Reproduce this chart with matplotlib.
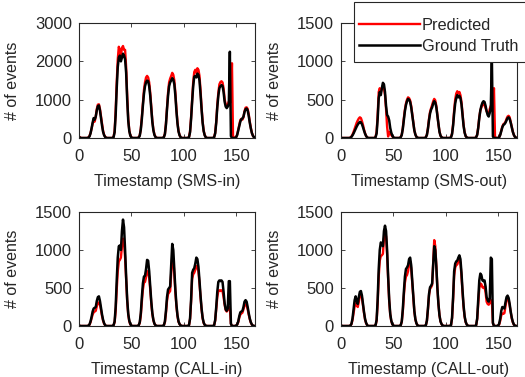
import numpy as np
import matplotlib
matplotlib.use('Agg')
import matplotlib.pyplot as plt
from matplotlib.patches import Rectangle

# hourly timestamps over one week
timestamps = list(range(0, 169))

# SMS-in
sms_in_true = ([30, 10, 0, 0, 0, 0, 0, 0, 0, 10, 40, 120, 250, 400, 520, 480, 560, 720, 830, 850, 720, 520, 320, 160]
               + [70, 25, 5, 0, 0, 0, 0, 0, 0, 20, 150, 600, 1300, 1850, 2100, 2150, 2000, 2100, 2200, 2150, 2050, 1700, 1000, 450]
               + [180, 60, 15, 0, 0, 0, 0, 0, 0, 10, 60, 220, 500, 850, 1150, 1350, 1450, 1500, 1480, 1350, 1100, 750, 420, 200]
               + [80, 25, 5, 0, 0, 0, 0, 0, 0, 20, 100, 350, 750, 1100, 1350, 1450, 1500, 1560, 1520, 1400, 1100, 700, 380, 170]
               + [70, 20, 0, 0, 0, 0, 0, 0, 0, 20, 150, 500, 950, 1350, 1600, 1620, 1580, 1680, 1650, 1500, 1150, 750, 400, 180]
               + [70, 20, 0, 0, 0, 0, 0, 0, 0, 20, 120, 400, 800, 1100, 1300, 1350, 1380, 1360, 1200, 950, 820, 780, 820, 900]
               + [2250, 50, 0, 0, 0, 0, 20, 80, 200, 330, 430, 490, 510, 560, 680, 750, 770, 720, 580, 400, 250, 130, 60, 20]
               + [10])
sms_in_pred = ([40, 15, 0, 0, 0, 0, 0, 0, 0, 15, 50, 130, 240, 370, 450, 430, 560, 760, 870, 880, 760, 560, 350, 180]
               + [80, 30, 5, 0, 0, 0, 0, 0, 0, 30, 180, 700, 1450, 2050, 2380, 2300, 2150, 2350, 2400, 2300, 2300, 1850, 1100, 500]
               + [200, 70, 15, 0, 0, 0, 0, 0, 0, 15, 70, 240, 550, 900, 1250, 1450, 1580, 1620, 1580, 1450, 1180, 800, 450, 220]
               + [90, 30, 5, 0, 0, 0, 0, 0, 0, 25, 110, 380, 800, 1180, 1450, 1550, 1620, 1700, 1650, 1500, 1180, 760, 400, 180]
               + [75, 20, 0, 0, 0, 0, 0, 0, 0, 25, 170, 540, 1020, 1450, 1720, 1780, 1700, 1820, 1780, 1620, 1250, 800, 430, 190]
               + [75, 20, 0, 0, 0, 0, 0, 0, 0, 25, 140, 430, 860, 1180, 1400, 1460, 1480, 1450, 1300, 1020, 880, 820, 870, 950]
               + [900, 1000, 1950, 50, 0, 0, 25, 90, 220, 360, 470, 500, 480, 540, 700, 790, 800, 760, 620, 430, 270, 140, 60, 20]
               + [10])

# SMS-out
sms_out_true = ([5, 0, 0, 0, 0, 0, 0, 0, 0, 5, 15, 35, 60, 90, 120, 150, 175, 195, 210, 205, 180, 140, 95, 55]
                + [25, 8, 0, 0, 0, 0, 0, 0, 0, 10, 60, 250, 520, 600, 560, 650, 720, 700, 600, 420, 300, 280, 230, 130]
                + [70, 30, 10, 0, 0, 0, 0, 0, 0, 10, 40, 120, 240, 350, 430, 480, 510, 500, 470, 400, 300, 190, 100, 45]
                + [15, 5, 0, 0, 0, 0, 0, 0, 0, 10, 40, 120, 230, 320, 370, 400, 450, 480, 460, 400, 290, 170, 80, 30]
                + [10, 0, 0, 0, 0, 0, 0, 0, 0, 10, 50, 160, 320, 450, 520, 560, 530, 550, 520, 440, 300, 160, 70, 25]
                + [8, 0, 0, 0, 0, 0, 0, 0, 0, 10, 40, 130, 260, 360, 420, 460, 480, 470, 420, 350, 300, 280, 330, 400]
                + [1050, 20, 0, 0, 0, 0, 0, 10, 40, 90, 140, 170, 180, 200, 230, 260, 270, 250, 200, 140, 80, 40, 15, 5]
                + [0])
sms_out_pred = ([5, 0, 0, 0, 0, 0, 0, 0, 0, 5, 20, 45, 80, 120, 160, 200, 230, 255, 270, 260, 220, 170, 110, 60]
                + [25, 8, 0, 0, 0, 0, 0, 0, 0, 15, 80, 300, 600, 650, 600, 640, 680, 650, 560, 380, 150, 20, 80, 60]
                + [40, 20, 5, 0, 0, 0, 0, 0, 0, 10, 45, 130, 260, 370, 450, 500, 530, 520, 490, 420, 310, 200, 100, 45]
                + [15, 5, 0, 0, 0, 0, 0, 0, 0, 10, 45, 130, 250, 340, 390, 430, 480, 510, 490, 420, 300, 180, 85, 30]
                + [10, 0, 0, 0, 0, 0, 0, 0, 0, 10, 60, 180, 360, 500, 580, 610, 580, 600, 560, 470, 320, 170, 75, 25]
                + [8, 0, 0, 0, 0, 0, 0, 0, 0, 10, 45, 140, 270, 360, 400, 430, 440, 430, 390, 350, 320, 300, 380, 420]
                + [400, 350, 650, 20, 0, 0, 0, 10, 45, 100, 150, 180, 190, 210, 250, 280, 290, 270, 210, 150, 85, 40, 15, 5]
                + [0])

# CALL-in
call_in_true = ([10, 0, 0, 0, 0, 0, 0, 0, 0, 5, 20, 60, 120, 190, 230, 240, 250, 330, 380, 390, 330, 240, 150, 80]
                + [35, 10, 0, 0, 0, 0, 0, 0, 0, 10, 60, 250, 600, 900, 1050, 1060, 1000, 1250, 1400, 1300, 1000, 650, 350, 160]
                + [70, 25, 5, 0, 0, 0, 0, 0, 0, 10, 50, 170, 380, 560, 650, 660, 750, 870, 860, 720, 520, 320, 170, 80]
                + [30, 10, 0, 0, 0, 0, 0, 0, 0, 10, 60, 200, 380, 480, 500, 520, 800, 1080, 1000, 750, 480, 280, 140, 60]
                + [25, 8, 0, 0, 0, 0, 0, 0, 0, 10, 100, 350, 700, 740, 760, 820, 900, 880, 780, 600, 400, 230, 110, 45]
                + [15, 5, 0, 0, 0, 0, 0, 0, 0, 10, 80, 250, 450, 580, 600, 590, 600, 580, 450, 300, 220, 200, 230, 590]
                + [590, 30, 0, 0, 0, 0, 5, 20, 60, 130, 180, 190, 200, 250, 320, 340, 320, 250, 170, 100, 50, 20, 5, 0]
                + [0])
call_in_pred = ([10, 0, 0, 0, 0, 0, 0, 0, 0, 5, 15, 50, 100, 150, 180, 190, 200, 260, 300, 310, 280, 210, 130, 70]
                + [30, 10, 0, 0, 0, 0, 0, 0, 0, 10, 50, 200, 480, 720, 850, 870, 900, 1050, 1150, 1100, 900, 600, 330, 150]
                + [60, 20, 5, 0, 0, 0, 0, 0, 0, 10, 40, 140, 320, 480, 570, 580, 640, 720, 720, 640, 480, 300, 160, 75]
                + [30, 10, 0, 0, 0, 0, 0, 0, 0, 10, 50, 170, 330, 420, 440, 460, 700, 920, 880, 680, 440, 260, 130, 55]
                + [25, 8, 0, 0, 0, 0, 0, 0, 0, 10, 90, 320, 620, 680, 700, 740, 790, 780, 720, 560, 380, 220, 100, 40]
                + [15, 5, 0, 0, 0, 0, 0, 0, 0, 10, 70, 220, 380, 460, 470, 460, 470, 460, 380, 280, 210, 190, 210, 250]
                + [240, 30, 0, 0, 0, 0, 5, 20, 50, 110, 150, 165, 175, 220, 270, 285, 270, 220, 150, 90, 45, 18, 5, 0]
                + [0])

# CALL-out
call_out_true = ([10, 0, 0, 0, 0, 0, 0, 0, 0, 5, 30, 100, 220, 340, 390, 330, 290, 380, 450, 460, 400, 290, 180, 90]
                 + [40, 12, 0, 0, 0, 0, 0, 0, 0, 10, 80, 350, 750, 1000, 1100, 1080, 1050, 1250, 1320, 1250, 1000, 650, 350, 160]
                 + [70, 25, 5, 0, 0, 0, 0, 0, 0, 10, 60, 220, 450, 650, 750, 770, 800, 880, 900, 800, 600, 380, 200, 90]
                 + [35, 10, 0, 0, 0, 0, 0, 0, 0, 10, 70, 230, 420, 510, 530, 560, 800, 1050, 1000, 780, 500, 290, 140, 60]
                 + [25, 8, 0, 0, 0, 0, 0, 0, 0, 10, 110, 380, 720, 820, 850, 860, 900, 930, 880, 700, 470, 270, 130, 55]
                 + [20, 5, 0, 0, 0, 0, 0, 0, 0, 10, 100, 350, 600, 690, 670, 600, 590, 600, 520, 380, 340, 320, 360, 900]
                 + [880, 40, 0, 0, 0, 0, 5, 30, 100, 200, 250, 240, 230, 310, 380, 400, 370, 290, 190, 110, 55, 20, 5, 0]
                 + [0])
call_out_pred = ([10, 0, 0, 0, 0, 0, 0, 0, 0, 5, 25, 80, 170, 260, 300, 270, 250, 320, 400, 420, 370, 270, 170, 85]
                 + [35, 10, 0, 0, 0, 0, 0, 0, 0, 10, 70, 300, 650, 860, 920, 930, 950, 1150, 1220, 1180, 950, 620, 330, 150]
                 + [65, 22, 5, 0, 0, 0, 0, 0, 0, 10, 55, 190, 400, 570, 650, 670, 720, 820, 850, 760, 570, 360, 190, 85]
                 + [35, 10, 0, 0, 0, 0, 0, 0, 0, 10, 70, 220, 400, 490, 510, 540, 850, 1130, 1050, 790, 500, 290, 140, 60]
                 + [25, 8, 0, 0, 0, 0, 0, 0, 0, 10, 100, 350, 660, 770, 800, 810, 850, 870, 830, 660, 440, 250, 120, 50]
                 + [20, 5, 0, 0, 0, 0, 0, 0, 0, 10, 90, 300, 500, 560, 550, 510, 500, 520, 440, 320, 290, 280, 300, 340]
                 + [330, 40, 0, 0, 0, 0, 5, 20, 70, 140, 165, 160, 170, 260, 340, 360, 340, 270, 180, 100, 50, 18, 5, 0]
                 + [0])

panels = [
    ('Timestamp (SMS-in)', sms_in_pred, sms_in_true, [0, 1000, 2000, 3000]),
    ('Timestamp (SMS-out)', sms_out_pred, sms_out_true, [0, 500, 1000, 1500]),
    ('Timestamp (CALL-in)', call_in_pred, call_in_true, [0, 500, 1000, 1500]),
    ('Timestamp (CALL-out)', call_out_pred, call_out_true, [0, 500, 1000, 1500]),
]

plt.rcParams['font.family'] = ['Liberation Sans', 'DejaVu Sans']
txt = '#262626'

fig = plt.figure(figsize=(5.25, 3.77), dpi=100)
W, H = 525.0, 377.0
# axes boxes in pixels: left, top, right, bottom
boxes = [(79, 23, 255, 138), (341, 23, 517, 138), (79, 212, 255, 326), (341, 212, 517, 326)]

axes = []
for (xlabel, pred, true, yticks), (l, t, r, b) in zip(panels, boxes):
    ax = fig.add_axes([l / W, 1 - b / H, (r - l) / W, (b - t) / H])
    ax.plot(timestamps, pred, color='#ff0000', lw=1.7, label='Predicted')
    ax.plot(timestamps, true, color='black', lw=1.8, label='Ground Truth')
    ax.set_xlim(0, 168)
    ax.set_ylim(yticks[0], yticks[-1])
    ax.set_xticks([0, 50, 100, 150])
    ax.set_yticks(yticks)
    ax.tick_params(direction='in', top=True, right=True, length=3, width=0.6,
                   colors=txt, labelsize=12)
    ax.tick_params(axis='x', pad=8)
    ax.tick_params(axis='y', pad=5)
    for s in ax.spines.values():
        s.set_color(txt)
        s.set_linewidth(0.8)
    ax.set_xlabel(xlabel, color=txt, fontsize=11.5, labelpad=7)
    ax.set_ylabel('# of events', color=txt, fontsize=11.5, labelpad=11)
    axes.append(ax)

# legend box, running off the right edge of the figure like the original
fig.patches.append(Rectangle((354 / W, 1 - 62 / H), 200 / W, 60 / H, transform=fig.transFigure,
                             facecolor='white', edgecolor=txt, linewidth=0.8, zorder=5))
handles, labels = axes[1].get_legend_handles_labels()
leg = fig.legend(handles, labels, loc='upper left', bbox_to_anchor=(359 / W, 1 - 18 / H),
                 borderaxespad=0, borderpad=0, frameon=False, handlelength=3.7,
                 handletextpad=0.15, labelspacing=0.35, fontsize=11.8)
leg.set_zorder(6)
for t in leg.get_texts():
    t.set_color(txt)

fig.savefig('out.png', dpi=100)
